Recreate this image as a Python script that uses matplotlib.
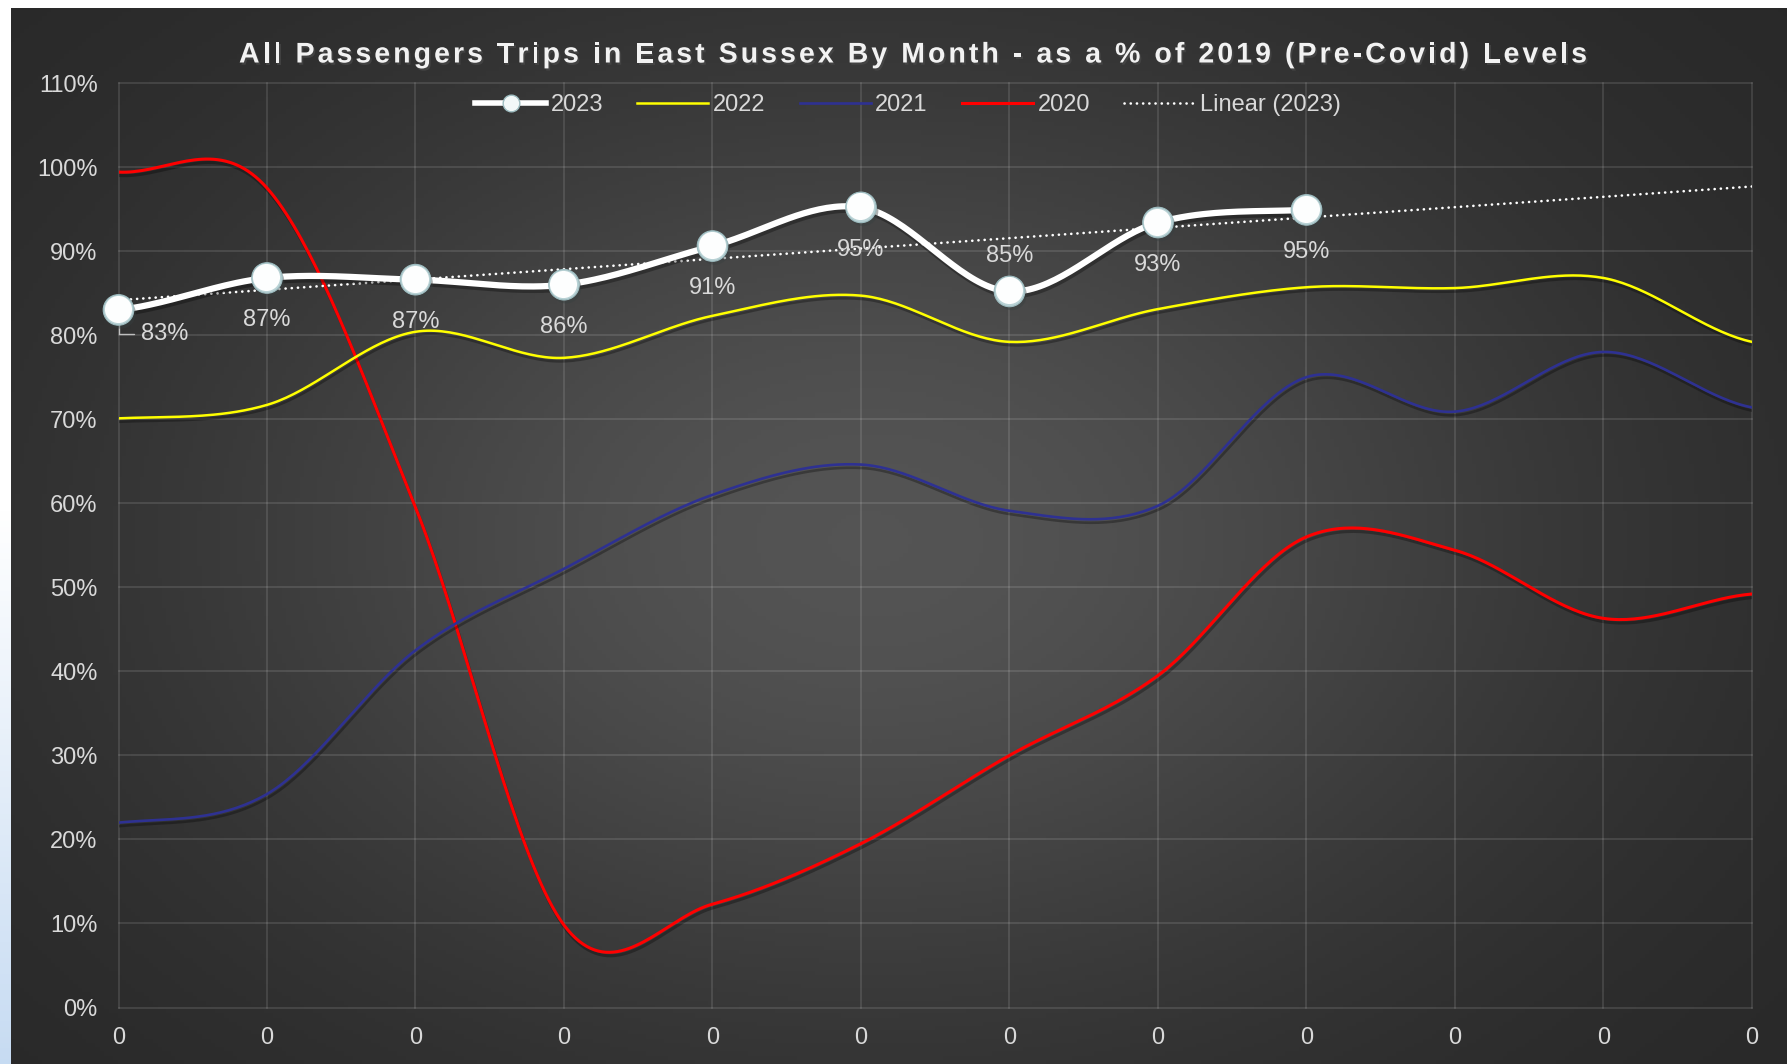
import numpy as np
import matplotlib
matplotlib.use('Agg')
import matplotlib.pyplot as plt
import matplotlib.patheffects as pe
from matplotlib.lines import Line2D
from matplotlib.font_manager import FontProperties, findfont, get_font
from matplotlib.transforms import offset_copy

# ---- data ----
months = np.arange(12)
xtick_labels = ['0'] * 12
y2023 = [83.0, 86.8, 86.6, 86.0, 90.6, 95.2, 85.2, 93.4, 94.9]
y2022 = [70.1, 71.7, 80.4, 77.3, 82.3, 84.7, 79.2, 83.1, 85.7, 85.6, 86.8, 79.2]
y2021 = [22.0, 25.4, 42.5, 52.2, 61.0, 64.6, 59.1, 59.7, 75.0, 70.9, 78.0, 71.4]
y2020 = [99.4, 97.5, 59.5, 9.8, 12.3, 19.5, 30.0, 39.5, 56.0, 54.4, 46.3, 49.2]
ytick_vals = np.arange(0, 111, 10)

title = "All Passengers Trips in East Sussex By Month - as a % of 2019 (Pre-Covid) Levels"

W, H = 1787, 1064
txt_col = '#d9d9d9'
plt.rcParams['font.family'] = ['Liberation Sans', 'DejaVu Sans']


def smooth(y, n=40):
    # excel style smoothed line (catmull-rom through the points)
    y = np.asarray(y, float)
    p = np.concatenate([[y[0]], y, [y[-1]]])
    xs, ys = [], []
    t = np.linspace(0, 1, n)
    for i in range(len(y) - 1):
        p0, p1, p2, p3 = p[i], p[i + 1], p[i + 2], p[i + 3]
        c1 = p1 + (p2 - p0) / 6
        c2 = p2 - (p3 - p1) / 6
        ys.append((1 - t)**3 * p1 + 3 * (1 - t)**2 * t * c1 + 3 * (1 - t) * t**2 * c2 + t**3 * p2)
        xs.append(i + t)
    return np.concatenate(xs), np.concatenate(ys)


fig = plt.figure(figsize=(W / 100, H / 100), dpi=100)
fig.patch.set_facecolor('white')

# left light-blue strip
strip = fig.add_axes([0, 0, 11 / W, 1])
sy = np.linspace(0, 1, 200)
sc = np.clip((sy - 0.48) / 0.52, 0, 1)
col_top = np.array([1.0, 1.0, 1.0])
col_bot = np.array([0.78, 0.86, 0.95])
simg = (col_top[None, :] * (1 - sc[:, None]) + col_bot[None, :] * sc[:, None])[:, None, :]
strip.imshow(simg, aspect='auto', extent=[0, 1, 0, 1])
strip.axis('off')

# dark panel with soft radial gradient
bg = fig.add_axes([11 / W, 0, 1 - 11 / W, 1 - 8 / H])
gx, gy = np.meshgrid(np.linspace(11, W, 400), np.linspace(8, H, 250))
d2 = ((gx - 870) / 900) ** 2 + ((gy - 540) / 620) ** 2
val = 0.15 + 0.18 * np.exp(-1.6 * d2)
bg.imshow(np.dstack([val, val, val]), aspect='auto', extent=[0, 1, 0, 1], origin='upper')
bg.axis('off')

ax = fig.add_axes([118.5 / W, 1 - 1007.5 / H, (1752 - 118.5) / W, (1007.5 - 83) / H])
ax.set_facecolor('none')
ax.set_xlim(0, 11)
ax.set_ylim(0, 110)
ax.set_xticks(months)
ax.set_xticklabels(xtick_labels)
ax.set_yticks(ytick_vals)
ax.set_yticklabels([f'{v}%' for v in ytick_vals])
ax.tick_params(length=0, labelsize=17, labelcolor=txt_col)
ax.tick_params(axis='x', pad=14)
ax.tick_params(axis='y', pad=15)
for s in ax.spines.values():
    s.set_visible(False)
ax.grid(True, color='white', alpha=0.14, lw=1.1)
ax.set_axisbelow(True)
fig.canvas.draw()
for gl in ax.get_xgridlines() + ax.get_ygridlines():
    gl.set_clip_on(False)

shadow = [pe.SimpleLineShadow(offset=(1, -2.5), shadow_color='black', alpha=0.3), pe.Normal()]

# other years
xs, ys = smooth(y2020)
ax.plot(xs, ys, color='#ff0000', lw=2.2, zorder=3, path_effects=shadow)
xs, ys = smooth(y2021)
ax.plot(xs, ys, color='#2e3192', lw=1.9, zorder=3, path_effects=shadow)
xs, ys = smooth(y2022)
ax.plot(xs, ys, color='#ffff00', lw=1.8, zorder=3, path_effects=shadow)

# trend line for 2023
x23 = months[:len(y2023)]
k, b = np.polyfit(x23, y2023, 1)
ax.plot(months, k * months + b, color='white', lw=1.9, ls=(0, (0.05, 2.3)),
        dash_capstyle='round', zorder=4)

# 2023 line and markers
xs, ys = smooth(y2023)
ax.plot(xs, ys, color='white', lw=4.5, zorder=5, solid_capstyle='round', path_effects=shadow)
ax.plot(x23, y2023, 'o', ms=22, mfc='#b9d2d5', mec='#9dbcc0', mew=0.8, zorder=6, clip_on=False,
        path_effects=[pe.SimplePatchShadow(offset=(1.5, -2.5), alpha=0.4), pe.Normal()])
hl = offset_copy(ax.transData, fig=fig, x=-0.9, y=1.0, units='dots')
ax.plot(x23, y2023, 'o', ms=19.5, mfc='#fdfefe', mec='none', zorder=7, transform=hl, clip_on=False)

# data labels
for i, v in enumerate(y2023):
    lab = f'{v:.0f}%'
    if i == 0:
        ax.annotate(lab, (i, v), xytext=(16, -17.5), textcoords='offset points',
                    ha='left', va='center', fontsize=17, color=txt_col, zorder=5,
                    arrowprops=dict(arrowstyle='-', color='#bfbfbf', lw=1,
                                    connectionstyle='angle,angleA=0,angleB=90,rad=0',
                                    shrinkA=3, shrinkB=0))
    elif i == 6:
        ax.annotate(lab, (i, v), xytext=(0, 25.5), textcoords='offset points',
                    ha='center', va='center', fontsize=17, color=txt_col, zorder=8)
    else:
        ax.annotate(lab, (i, v), xytext=(0, -30.5), textcoords='offset points',
                    ha='center', va='center', fontsize=17, color=txt_col, zorder=8)

# legend
handles = [
    Line2D([], [], color='white', lw=4, marker='o', ms=12, mfc='#f2f8f8', mec='#9dbcc0'),
    Line2D([], [], color='#ffff00', lw=1.8),
    Line2D([], [], color='#2e3192', lw=1.9),
    Line2D([], [], color='#ff0000', lw=2.2),
    Line2D([], [], color='white', lw=1.9, ls=(0, (0.05, 2.3)), dash_capstyle='round'),
]
labels = ['2023', '2022', '2021', '2020', 'Linear (2023)']
leg = ax.legend(handles, labels, loc='center', bbox_to_anchor=(908 / W, 1 - 105 / H),
                bbox_transform=fig.transFigure, ncol=5, frameon=False, fontsize=17,
                handlelength=3.0, handletextpad=0.2, columnspacing=1.45, labelcolor=txt_col)

# title with letter spacing
fsize = 20.5
fp = FontProperties(family='Liberation Sans', weight='bold', size=fsize)
font = get_font(findfont(fp))
font.set_size(fsize, 100)
adv = [font.load_char(ord(c)).linearHoriAdvance / 65536 for c in title]
cum = np.concatenate([[0], np.cumsum(adv)])
r = fig.canvas.get_renderer()
tt = fig.text(0, 0, title, fontproperties=fp)
nat = tt.get_window_extent(r).width
tt.remove()
scale = nat / cum[-1]
x_start, x_end = 239, 1587
spacing = (x_end - x_start - nat) / (len(title) - 1)
title_fx = [pe.withSimplePatchShadow(offset=(1.2, -1.6), alpha=0.7)]
for i, c in enumerate(title):
    fig.text((x_start + cum[i] * scale + i * spacing) / W, 1 - 62.5 / H, c,
             fontproperties=fp, color='#f2f2f2', ha='left', va='baseline',
             path_effects=title_fx)

fig.savefig('out.png', dpi=100)
